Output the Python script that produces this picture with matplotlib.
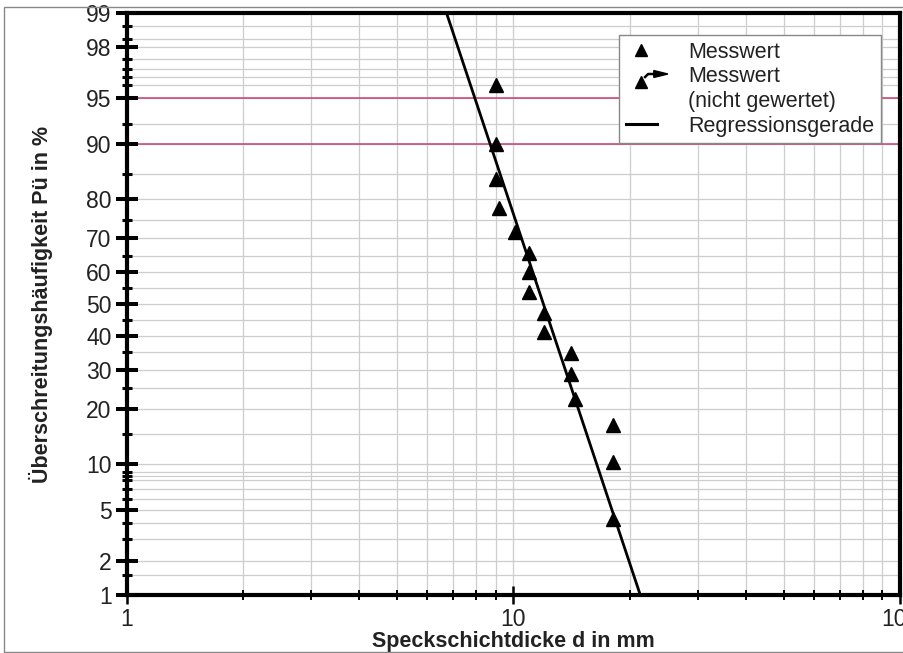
import numpy as np
import matplotlib
matplotlib.use("Agg")
import matplotlib.pyplot as plt
from matplotlib.lines import Line2D
from matplotlib.patches import Polygon, Rectangle
from matplotlib.legend_handler import HandlerBase
from statistics import NormalDist

# ------ Daten
d_mess = [9.0, 9.0, 9.0, 9.2, 10.1, 11.0, 11.0, 11.0, 12.0, 12.0,
          14.1, 14.1, 14.4, 18.1, 18.1, 18.1]          # Speckschichtdicke in mm
p_mess = [96.0, 90.0, 84.1, 77.9, 71.8, 65.7, 60.2, 53.9, 47.2, 41.2,
          34.7, 28.8, 22.5, 16.7, 10.4, 4.3]            # Überschreitungshäufigkeit in %

reg_d = [21.3, 6.72]     # Regressionsgerade, Endpunkte
reg_p = [1.0, 99.0]

p_grenz = [90, 95]       # rote Linien

y_major = [1, 2, 5, 10, 20, 30, 40, 50, 60, 70, 80, 90, 95, 98, 99]
y_minor = [1.5, 3, 4, 6, 7, 8, 8.5, 9, 15, 25, 35, 45, 55, 65, 75, 85,
           92.5, 96, 96.5, 97, 97.5, 98.3, 98.7]
x_major = [1, 10, 100]
x_labels = ['1', '10', '100']
x_minor = [2, 3, 4, 5, 6, 7, 8, 9, 20, 30, 40, 50, 60, 70, 80, 90]

# ------ Wahrscheinlichkeitsnetz (Normalverteilung)
_nd = NormalDist()

def prob_fwd(p):
    p = np.clip(np.asarray(p, dtype=float), 1e-6, 100 - 1e-6)
    return np.vectorize(lambda v: _nd.inv_cdf(v / 100.0), otypes=[float])(p)

def prob_inv(z):
    z = np.asarray(z, dtype=float)
    return np.vectorize(lambda v: _nd.cdf(v) * 100.0, otypes=[float])(z)


class ArrowTri(object):
    pass


class HandlerArrowTri(HandlerBase):
    # Dreieck mit Pfeil (Messwert nicht gewertet)
    def create_artists(self, legend, orig_handle, xdescent, ydescent,
                       width, height, fontsize, trans):
        x0, y0 = -xdescent, -ydescent
        tri = Line2D([x0 + 0.5 * width], [y0 + 0.05 * height], marker='^',
                     ms=9, color='black', linestyle='none', transform=trans)
        bend = Line2D([x0 + 0.62 * width, x0 + 0.72 * width, x0 + 0.95 * width],
                      [y0 + 0.35 * height, y0 + 0.55 * height, y0 + 0.55 * height],
                      color='black', lw=1.8, transform=trans)
        head = Polygon([[x0 + 0.9 * width, y0 + 0.78 * height],
                        [x0 + 1.35 * width, y0 + 0.55 * height],
                        [x0 + 0.9 * width, y0 + 0.32 * height]],
                       closed=True, color='black', transform=trans)
        return [tri, bend, head]


plt.rcParams['font.family'] = ['Liberation Sans', 'DejaVu Sans']

fig = plt.figure(figsize=(9.04, 6.53), dpi=100, facecolor='white')
ax = fig.add_axes([0.140, 0.0888, 0.8556, 0.8912])

ax.set_xscale('log')
ax.set_yscale('function', functions=(prob_fwd, prob_inv))
ax.set_xlim(1, 100)
ax.set_ylim(1, 99)

# Gitter
for p in y_major + y_minor:
    ax.axhline(p, color='#cdcdcd', lw=0.9, zorder=0)
for d in x_minor + [10]:
    ax.axvline(d, color='#cdcdcd', lw=0.9, zorder=0)
for p in p_grenz:
    ax.axhline(p, color='#c8406e', lw=1.1, zorder=1)

# Daten
ax.plot(reg_d, reg_p, '-', color='black', lw=2.0, zorder=3)
ax.plot(d_mess, p_mess, '^', color='black', ms=10, linestyle='none', zorder=4)

# Achsen
ax.set_yticks(y_major, [str(v) for v in y_major])
ax.set_yticks(y_minor, minor=True)
ax.set_yticklabels([], minor=True)
ax.set_xticks(x_major, x_labels)
ax.set_xticks(x_minor, minor=True)
ax.set_xticklabels([], minor=True)

ax.tick_params(axis='y', which='major', direction='inout', length=15.5, width=2.9,
               labelsize=16.5, pad=3, colors='black', labelcolor='#222222')
ax.tick_params(axis='y', which='minor', direction='inout', length=7, width=2.2)
ax.tick_params(axis='x', which='major', direction='inout', length=13, width=1.8,
               labelsize=16.5, pad=3, labelcolor='#222222')
ax.tick_params(axis='x', which='minor', direction='inout', length=6.5, width=1.4)

for s in ax.spines.values():
    s.set_linewidth(3.0)
    s.set_color('black')

ax.set_xlabel('Speckschichtdicke d in mm', fontsize=15.5, fontweight='bold',
              color='#222222', labelpad=0)
ax.set_ylabel('Überschreitungshäufigkeit Pü in %', fontsize=15.5, fontweight='bold',
              color='#222222', labelpad=24)

# Legende
h_mess = Line2D([], [], marker='^', color='black', ms=9, linestyle='none')
h_leer = Line2D([], [], linestyle='none', marker='none')
h_reg = Line2D([], [], color='black', lw=2.2)
leg = ax.legend([h_mess, ArrowTri(), h_leer, h_reg],
                ['Messwert', 'Messwert', '(nicht gewertet)', 'Regressionsgerade'],
                handler_map={ArrowTri: HandlerArrowTri()},
                loc='upper left', bbox_to_anchor=(0.637, 0.962), borderaxespad=0,
                fontsize=15.5, frameon=True, fancybox=False, framealpha=1,
                edgecolor='#888888', handlelength=1.45, handletextpad=1.45,
                labelspacing=0.17, borderpad=0.3)
leg.get_frame().set_linewidth(1.0)
for t in leg.get_texts():
    t.set_color('#222222')

# Rahmen um das Bild
fig.add_artist(Rectangle((4 / 904, 1.5 / 653), 1.0, 1 - 8.5 / 653,
                         transform=fig.transFigure, fill=False,
                         edgecolor='#888888', lw=1.0))

fig.savefig('out.png', dpi=100, facecolor='white')
